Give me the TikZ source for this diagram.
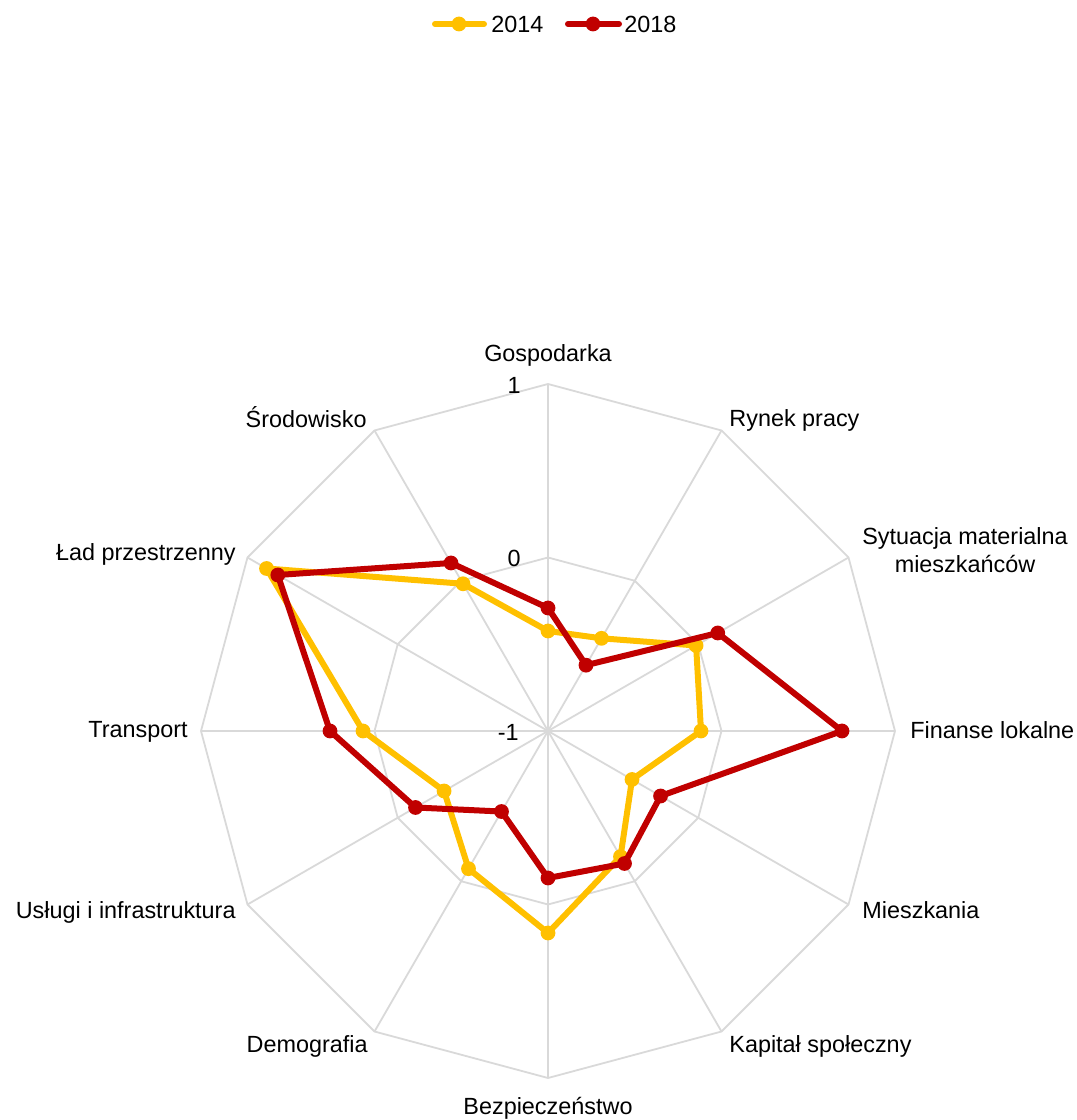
\documentclass[tikz,border=0pt]{standalone}
\usepackage{fontspec}
\setmainfont{Liberation Sans}
\definecolor{gold}{HTML}{FFC000}
\definecolor{darkred}{HTML}{C00000}
\definecolor{webgray}{HTML}{D9D9D9}
\tikzset{
  lbl/.style={font=\fontsize{11.7}{14}\selectfont, inner sep=0pt},
  webline/.style={draw=webgray, line width=0.9pt, line join=round},
  yr14/.style={draw=gold, line width=3pt, line join=round, line cap=round},
  yr18/.style={draw=darkred, line width=3pt, line join=round, line cap=round}
}
\begin{document}
\begin{tikzpicture}[x=0.5pt,y=0.5pt]
\useasboundingbox (0,0) rectangle (1077,1120);
\coordinate (C) at (548,389);

\begin{scope}[shift={(C)}]
  % web
  \foreach \a in {0,30,...,330}
    \draw[webline] (0,0) -- (\a:347);
  \draw[webline] (0:173.5) \foreach \a in {30,60,...,330} { -- (\a:173.5)} -- cycle;
  \draw[webline] (0:347) \foreach \a in {30,60,...,330} { -- (\a:347)} -- cycle;

  % 2014
  \draw[yr14] (90:100) -- (60:107) -- (30:171) -- (0:153) -- (-30:97) -- (-60:145)
    -- (-90:202) -- (-120:159) -- (-150:120) -- (180:185) -- (150:325) -- (120:170) -- cycle;
  \foreach \a/\r in {90/100,60/107,30/171,0/153,-30/97,-60/145,-90/202,-120/159,-150/120,180/185,150/325,120/170}
    \fill[gold] (\a:\r) circle (3.7pt);

  % 2018
  \draw[yr18] (90:123) -- (60:76) -- (30:196) -- (0:294) -- (-30:130) -- (-60:153)
    -- (-90:147) -- (-120:93) -- (-150:153) -- (180:218) -- (150:312) -- (120:194) -- cycle;
  \foreach \a/\r in {90/123,60/76,30/196,0/294,-30/130,-60/153,-90/147,-120/93,-150/153,180/218,150/312,120/194}
    \fill[darkred] (\a:\r) circle (3.7pt);
\end{scope}

% scale
\node[lbl, anchor=base east] (t1) at (521,726) {1};
\node[lbl, anchor=base east] (t0) at (521,553) {0};
\node[lbl, anchor=base east] (tm1) at (519,379) {-1};

% categories
\node[lbl, anchor=base] (gosp) at (548,758) {Gospodarka};
\node[lbl, anchor=base west] (rynek) at (729,693) {Rynek pracy};
\node[lbl, align=center] (sytu) at (965,570) {Sytuacja materialna\\mieszkańców};
\node[lbl, anchor=base west] (fin) at (910,381) {Finanse lokalne};
\node[lbl, anchor=base west] (miesz) at (862,201) {Mieszkania};
\node[lbl, anchor=base west] (kap) at (729,68) {Kapitał społeczny};
\node[lbl, anchor=base] (bezp) at (548,5) {Bezpieczeństwo};
\node[lbl, anchor=base east] (demo) at (368,68) {Demografia};
\node[lbl, anchor=base east] (uslugi) at (236,201) {Usługi i infrastruktura};
\node[lbl, anchor=base east] (trans) at (188,382) {Transport};
\node[lbl, anchor=base east] (lad) at (236,559) {Ład przestrzenny};
\node[lbl, anchor=base east] (srod) at (367,692) {Środowisko};

% legend
\coordinate (k14a) at (435,1096);
\coordinate (k14b) at (484,1096);
\draw[yr14] (k14a) -- (k14b);
\fill[gold] (459,1096) circle (3.7pt);
\node[lbl, anchor=west] (k14) at (491,1096) {2014};
\coordinate (k18a) at (568,1096);
\coordinate (k18b) at (619,1096);
\draw[yr18] (k18a) -- (k18b);
\fill[darkred] (593,1096) circle (3.7pt);
\node[lbl, anchor=west] (k18) at (624,1096) {2018};
\end{tikzpicture}
\end{document}
